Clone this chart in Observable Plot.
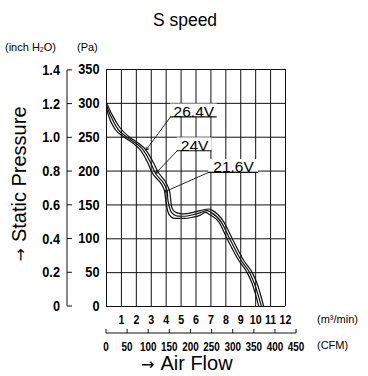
<!DOCTYPE html>
<html>
<head>
<meta charset="utf-8">
<script src="https://cdn.jsdelivr.net/npm/d3@7"></script>
<script src="https://cdn.jsdelivr.net/npm/@observablehq/plot@0.6"></script>
<style>
  html, body { margin: 0; padding: 0; background: #fff; }
  #chart { width: 368px; height: 376px; }
</style>
</head>
<body>
<div id="chart"></div>
<script>
// Fan P-Q curves, S speed, at three supply voltages.
// Air flow in m³/min, static pressure in Pa.
const seriesNames = ["26.4V", "24V", "21.6V"];

const curve26v4 = [
  [0, 301], [0.38, 283], [0.9, 264], [1.55, 250], [2.15, 241], [2.65, 231],
  [3.13, 213], [3.42, 200], [4.22, 171], [4.29, 161], [4.34, 150], [4.45, 143],
  [4.65, 139], [5.0, 137], [5.2, 136.7], [5.8, 139], [6.3, 141.6], [6.86, 144],
  [7.1, 142], [7.86, 125], [8.43, 100], [9.2, 68], [9.77, 50], [10.1, 33.5], [10.54, 0]
];
const curve24v = [
  [0, 297], [0.27, 282], [0.76, 262], [1.37, 250], [1.97, 241], [2.47, 231],
  [2.95, 212.8], [3.2, 200], [4.07, 171], [4.1, 161], [4.18, 150], [4.3, 141],
  [4.5, 136], [4.8, 133.5], [5.2, 133.3], [5.8, 135.5], [6.3, 138.6], [6.75, 141.6],
  [7.0, 139], [7.69, 125], [8.26, 100], [9.03, 68], [9.6, 50], [9.92, 33.5], [10.39, 0]
];
const curve21v6 = [
  [0, 293], [0.15, 281], [0.6, 261], [1.2, 250], [1.78, 241], [2.28, 231],
  [2.76, 212.8], [3.0, 200], [3.89, 171], [3.95, 161], [4.02, 150], [4.1, 141],
  [4.3, 133], [4.6, 130], [5.2, 130], [5.8, 132], [6.3, 135], [6.64, 139],
  [6.9, 136], [7.53, 125], [8.09, 100], [8.87, 68], [9.43, 50], [9.77, 33.5], [10.21, 0]
];
const curves = [curve26v4, curve24v, curve21v6];

const flowTicks = [1, 2, 3, 4, 5, 6, 7, 8, 9, 10, 11, 12];
const flowGrid = [0, 1, 2, 3, 4, 5, 6, 7, 8, 9, 10, 11, 12];
const pressureTicks = [0, 50, 100, 150, 200, 250, 300, 350];
const inchTicks = [0, 0.2, 0.4, 0.6, 0.8, 1.0, 1.2, 1.4];
const cfmTicks = [0, 50, 100, 150, 200, 250, 300, 350, 400, 450];

// Voltage callouts: underline from x to x2 at pressure y, pointer to the curve at "target" flow.
const callouts = [
  {name: "26.4V", series: 0, x: 4.29, x2: 7.42, y: 280, target: 2.65},
  {name: "24V",   series: 1, x: 4.74, x2: 7.08, y: 230, target: 3.3},
  {name: "21.6V", series: 2, x: 6.84, x2: 10.19, y: 198, target: 3.9}
];

const CFM_PER_M3 = 35.3147;
const PA_PER_INCH = 249.089;

const NUM_FONT = "'Liberation Sans', Arial, sans-serif";
const TEXT_FONT = "'Liberation Sans', Arial, sans-serif";
const ARROW_FONT = "'DejaVu Sans', sans-serif";

const rows = [];
curves.forEach((pts, k) => pts.forEach(([x, y]) => rows.push({name: seriesNames[k], x, y})));

const curveAt = (k, x) => {
  const pts = curves[k];
  return d3.scaleLinear().domain(pts.map(p => p[0])).range(pts.map(p => p[1]))(x);
};

const chart = Plot.plot({
  width: 368,
  height: 376,
  marginLeft: 106,
  marginRight: 83,
  marginTop: 69,
  marginBottom: 70,
  style: {fontFamily: NUM_FONT, fontSize: "13px", color: "#000", background: "#fff", overflow: "visible"},
  x: {domain: [0, 12], axis: null},
  y: {domain: [0, 350], axis: null},
  marks: [
    Plot.ruleX(flowGrid, {stroke: "#111", strokeWidth: 1}),
    Plot.ruleY(pressureTicks, {stroke: "#111", strokeWidth: 1}),
    Plot.axisX({ticks: flowTicks, tickSize: 0, tickPadding: 8, fontSize: 13, fontWeight: "bold", label: null}),
    Plot.axisY({ticks: pressureTicks, tickSize: 0, tickPadding: 7, fontSize: 14.5, fontWeight: "bold", label: null}),
    Plot.line(rows, {x: "x", y: "y", z: "name", curve: "monotone-x", stroke: "#111", strokeWidth: 1.2}),
    Plot.rect(callouts, {x1: "x", x2: "x2", y1: "y", y2: d => d.y + 19, fill: "#fff"}),
    Plot.ruleY(callouts, {x1: "x", x2: "x2", y: "y", stroke: "#111", strokeWidth: 1.2}),
    Plot.text(callouts, {x: d => (d.x + d.x2) / 2, y: "y", text: "name", lineAnchor: "bottom", dy: 0,
      fontSize: 15.5, fontFamily: TEXT_FONT, fill: "#000"}),
    Plot.arrow(callouts, {x1: "x", y1: "y", x2: "target", y2: d => curveAt(d.series, d.target),
      headLength: 5, strokeWidth: 0.9, stroke: "#111"})
  ]
});

document.getElementById("chart").append(chart);

// Narrow the numeric labels horizontally.
function squeeze(selection, ratio) {
  selection.each(function () {
    const w = this.getComputedTextLength();
    this.setAttribute("textLength", (w * ratio).toFixed(2));
    this.setAttribute("lengthAdjust", "spacingAndGlyphs");
  });
}

// Secondary scales (inch H2O and CFM) and the chart's captions.
const svg = d3.select(chart);
const sx = chart.scale("x");
const sy = chart.scale("y");

squeeze(svg.selectAll("g[aria-label='x-axis tick label'] text"), 0.82);
squeeze(svg.selectAll("g[aria-label='y-axis tick label'] text"), 0.88);

const inchAxis = svg.append("g").attr("stroke", "#111").attr("fill", "none");
const axX = 67;
inchAxis.append("line")
  .attr("x1", axX).attr("x2", axX)
  .attr("y1", sy.apply(1.4 * PA_PER_INCH)).attr("y2", sy.apply(0));
const inchLabels = svg.append("g");
inchTicks.forEach(v => {
  const y = sy.apply(v * PA_PER_INCH);
  inchAxis.append("line").attr("x1", axX).attr("x2", axX + 5).attr("y1", y).attr("y2", y);
  inchLabels.append("text")
    .attr("x", 60).attr("y", y).attr("dy", "0.35em")
    .attr("text-anchor", "end")
    .attr("font-family", NUM_FONT).attr("font-size", 14.5).attr("font-weight", "bold")
    .attr("fill", "#000")
    .text(v === 0 ? "0" : v.toFixed(1));
});
squeeze(inchLabels.selectAll("text"), 0.88);

const cfmY = 333;
const cfmAxis = svg.append("g").attr("stroke", "#111").attr("fill", "none");
cfmAxis.append("line")
  .attr("x1", sx.apply(0)).attr("x2", sx.apply(450 / CFM_PER_M3))
  .attr("y1", cfmY).attr("y2", cfmY);
const cfmLabels = svg.append("g");
cfmTicks.forEach(v => {
  const x = sx.apply(v / CFM_PER_M3);
  cfmAxis.append("line").attr("x1", x).attr("x2", x).attr("y1", cfmY).attr("y2", cfmY - 4);
  cfmLabels.append("text")
    .attr("x", x).attr("y", 350.5)
    .attr("text-anchor", "middle")
    .attr("font-family", NUM_FONT).attr("font-size", 13).attr("font-weight", "bold")
    .attr("fill", "#000")
    .text(v);
});
squeeze(cfmLabels.selectAll("text"), 0.76);

const caption = (x, y, size, text, anchor = "start") =>
  svg.append("text").attr("x", x).attr("y", y)
    .attr("font-family", TEXT_FONT).attr("font-size", size)
    .attr("text-anchor", anchor).attr("fill", "#000").text(text);

caption(185, 26, 17.5, "S speed", "middle");

const inchLabel = caption(5, 51, 11, "(inch H");
inchLabel.append("tspan").attr("font-size", 7).attr("dy", 1).text("2");
inchLabel.append("tspan").attr("dy", -1).text("O)");
caption(77, 51, 11, "(Pa)");
caption(317, 323, 11, "(m\u00b3/min)");
caption(317, 349, 11, "(CFM)");

const airFlow = svg.append("text").attr("x", 141).attr("y", 370)
  .attr("text-anchor", "start")
  .attr("font-family", TEXT_FONT).attr("font-size", 20).attr("fill", "#000");
airFlow.append("tspan").attr("font-family", ARROW_FONT).attr("font-size", 16).text("\u2192");
airFlow.append("tspan").attr("dx", 6).text("Air Flow");

const pressure = svg.append("text")
  .attr("transform", "translate(26,184) rotate(-90)")
  .attr("text-anchor", "middle")
  .attr("font-family", TEXT_FONT).attr("font-size", 20).attr("fill", "#000");
pressure.append("tspan").attr("font-family", ARROW_FONT).attr("font-size", 16).text("\u2192");
pressure.append("tspan").attr("dx", 6).text("Static Pressure");
</script>
</body>
</html>
